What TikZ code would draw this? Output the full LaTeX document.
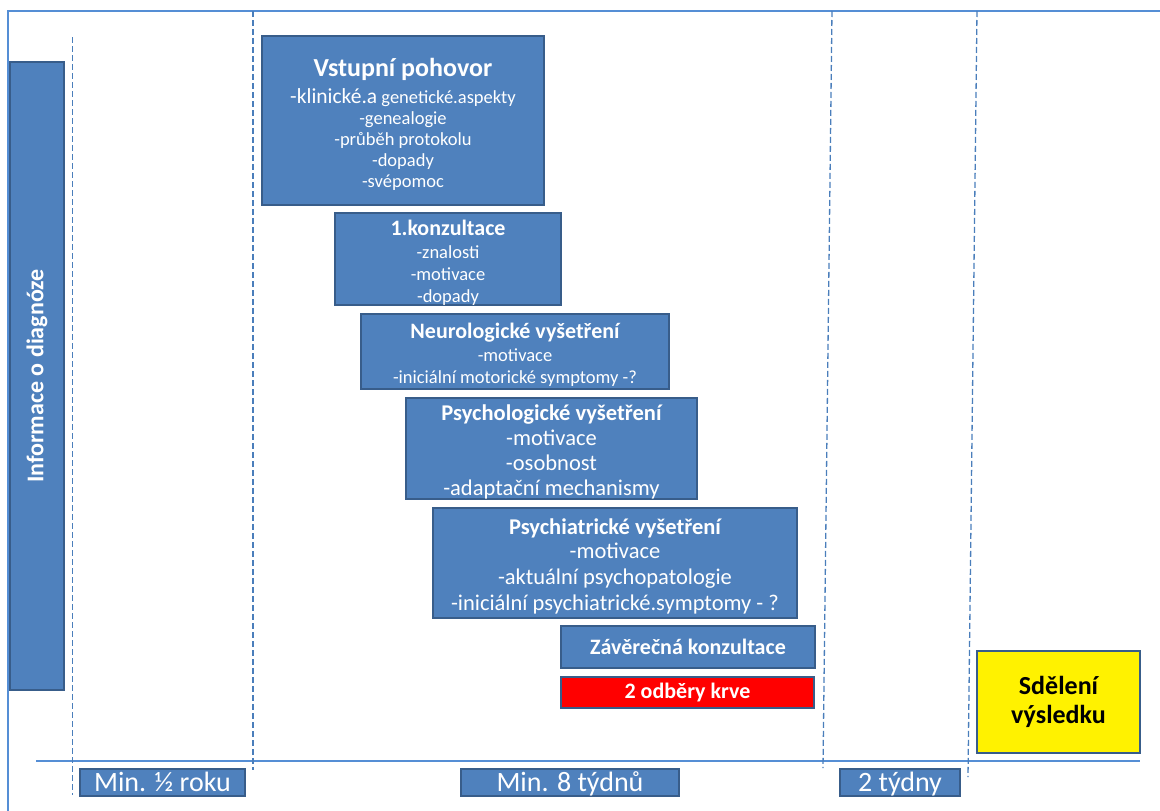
\documentclass[tikz,border=0pt]{standalone}
\usepackage{fontspec}
\setmainfont{Carlito}
\definecolor{boxfill}{HTML}{4F81BD}
\definecolor{boxline}{HTML}{385D8A}
\definecolor{frameline}{HTML}{558ED5}
\definecolor{dashline}{HTML}{4A7EBB}
\begin{document}
\begin{tikzpicture}[x=1pt,y=-1pt,
  box/.style={draw=boxline, line width=2pt, fill=boxfill, text=white, inner sep=0pt, align=center},
  boxtext/.style={text=white, inner sep=0pt, align=center},
  timebox/.style={box, minimum height=27pt, text height=20pt, text depth=2pt,
                  font=\fontsize{28}{28}\selectfont},
  dline/.style={draw=dashline, line width=1.3pt, dash pattern=on 6pt off 3pt}]
\useasboundingbox (0,0) rectangle (1160,811);
% frame
\draw[frameline, line width=2.5pt] (8,811) -- (8,11) -- (1160,11);
\draw[frameline, line width=1.2pt] (36,761) -- (1140,761);
% dashed separators
\draw[dline] (72.5,37) -- (72.5,795);
\draw[dline] (253,11) -- (253,770);
\draw[dline] (832,11) -- (823,768);
\draw[dline] (977,11) -- (968,777);
% left bar
\node[box, rotate=90, minimum width=628pt, minimum height=54pt,
      font=\fontsize{24}{28}\selectfont\bfseries] (info) at (37,376) {Informace o diagnóze};
% boxes
\node[box, minimum width=282pt, minimum height=169pt] (vp) at (403,120.5) {};
\node[boxtext, font=\fontsize{18.5}{21}\selectfont] (vpt) at ([yshift=-3.5pt]vp.center)
  {{\fontsize{26}{26}\selectfont\bfseries Vstupní pohovor}\\[6pt]
   {\fontsize{21.5}{21}\selectfont -klinické.a} genetické.aspekty\\
   -genealogie\\ -průběh protokolu\\ -dopady\\ -svépomoc};
\node[box, minimum width=226pt, minimum height=92pt] (k1) at (448,259) {};
\node[boxtext, font=\fontsize{18.5}{22}\selectfont] (k1t) at ([yshift=-3.5pt]k1.center)
  {{\fontsize{22}{22}\selectfont\bfseries 1.konzultace}\\[1pt]
   -znalosti\\ -motivace\\ -dopady};
\node[box, minimum width=308pt, minimum height=75pt] (nv) at (515,351.5) {};
\node[boxtext, font=\fontsize{18.5}{22}\selectfont] (nvt) at ([yshift=-3.5pt]nv.center)
  {{\fontsize{22}{22}\selectfont\bfseries Neurologické vyšetření}\\[1pt]
   -motivace\\ -iniciální motorické symptomy -?};
\node[box, minimum width=291pt, minimum height=101pt] (psl) at (551.5,448.5) {};
\node[boxtext, font=\fontsize{22.5}{25}\selectfont] (pslt) at ([yshift=-3pt]psl.center)
  {{\fontsize{22.5}{25}\selectfont\bfseries Psychologické vyšetření}\\
   -motivace\\ -osobnost\\ -adaptační mechanismy};
\node[box, minimum width=364pt, minimum height=110pt] (psy) at (615,563) {};
\node[boxtext, font=\fontsize{22.5}{26}\selectfont] (psyt) at ([yshift=-3.5pt]psy.center)
  {{\fontsize{22.5}{26}\selectfont\bfseries Psychiatrické vyšetření}\\[-2pt]
   -motivace\\ -aktuální psychopatologie\\ -iniciální psychiatrické.symptomy - ?};
\node[box, minimum width=254pt, minimum height=42pt,
      font=\fontsize{22}{24}\selectfont\bfseries] (zk) at (688,647) {Závěrečná konzultace};
\node[box, fill=red, minimum width=253pt, minimum height=31pt,
      font=\fontsize{22}{24}\selectfont\bfseries] (krev) at (687.5,692.5) {2 odběry krve};
\node[box, fill=yellow, text=black, minimum width=163pt, minimum height=102pt,
      font=\fontsize{26}{28.5}\selectfont\bfseries] (sv) at (1058.5,702) {Sdělení\\ výsledku};
% bottom labels
\node[timebox, minimum width=165pt] (t1) at (162.5,782) {Min. ½ roku};
\node[timebox, minimum width=218pt] (t2) at (570,782) {Min. 8 týdnů};
\node[timebox, minimum width=120pt] (t3) at (900,782) {2 týdny};
\end{tikzpicture}
\end{document}
